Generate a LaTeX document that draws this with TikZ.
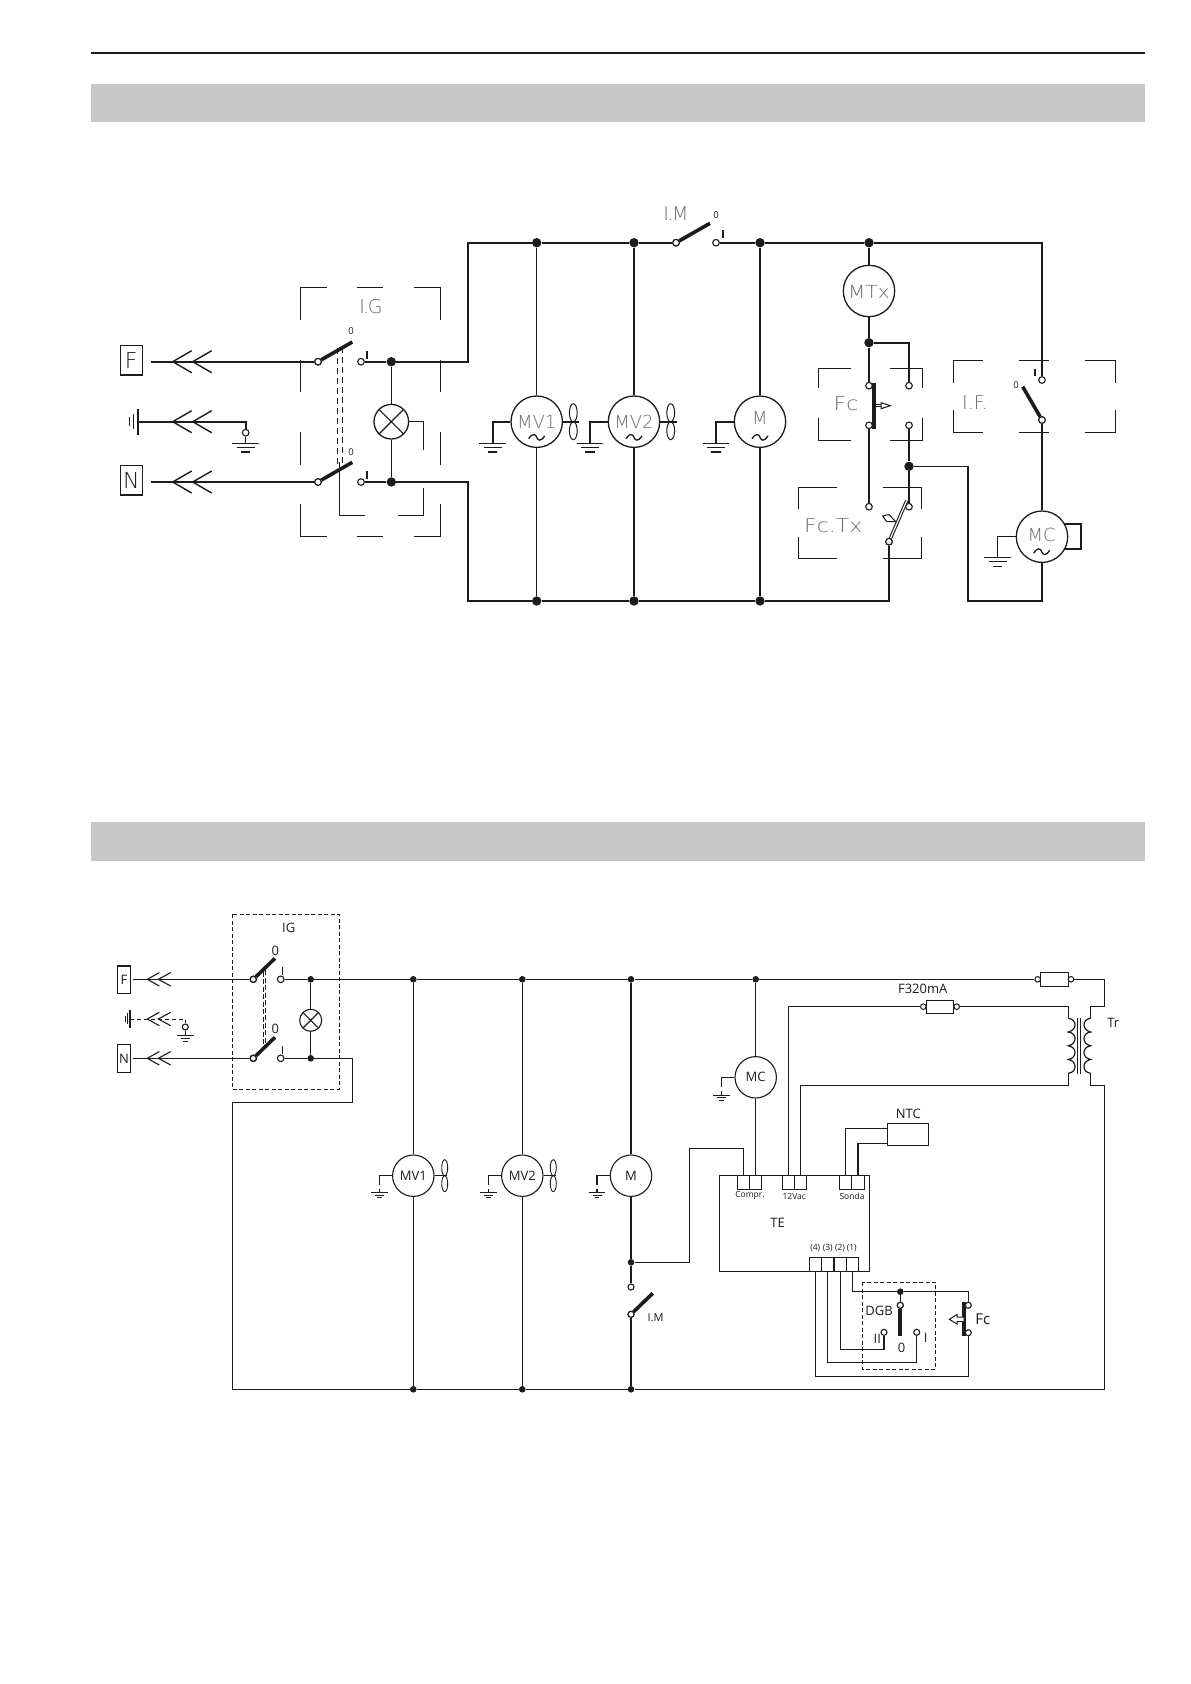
\documentclass[tikz,border=0pt]{standalone}
\usepackage{fontspec}
\newfontfamily\cadtop{DejaVu Sans ExtraLight}
\newfontfamily\cadlow{Open Sans}
\definecolor{band}{gray}{0.78}
\definecolor{ink}{gray}{0.11}
\tikzset{
  x=1pt,y=-1pt,
  hw/.style={draw=ink,line width=2.2pt},
  lw/.style={draw=ink,line width=1.2pt},
  brk/.style={draw=ink,line width=1pt},
  lever/.style={draw=ink,line width=3.6pt},
  jdot/.style={circle,fill=ink,draw=none,inner sep=0pt,minimum size=9.4pt},
  jdotl/.style={circle,fill=ink,draw=none,inner sep=0pt,minimum size=6.6pt},
  termn/.style={circle,fill=white,draw=ink,line width=1.1pt,inner sep=0pt,minimum size=6.6pt},
  termf/.style={circle,draw=ink,line width=1pt,inner sep=0pt,minimum size=5.6pt},
  motorT/.style={circle,fill=white,draw=ink,line width=1.3pt,inner sep=0pt,minimum size=51.4pt},
  motorL/.style={circle,fill=white,draw=ink,line width=1.1pt,inner sep=0pt,minimum size=41.4pt},
  lampT/.style={circle,draw=ink,line width=1.3pt,inner sep=0pt,minimum size=34.6pt},
  lampL/.style={circle,draw=ink,line width=1.1pt,inner sep=0pt,minimum size=22pt},
  boxn/.style={rectangle,draw=ink,line width=1.1pt,inner sep=0pt},
  tT/.style={inner sep=0pt,text=black!58,font=\cadtop\fontsize{19}{19}\selectfont},
  tW/.style={tT,transform shape,xscale=1.16},
  tM/.style={inner sep=0pt,text=black!58,font=\cadtop\fontsize{18}{18}\selectfont},
  tB/.style={inner sep=0pt,text=black!90,font=\cadtop\fontsize{22}{22}\selectfont},
  tS/.style={inner sep=0pt,text=ink,font=\cadlow\fontsize{9.5}{9.5}\selectfont},
  tL/.style={inner sep=0pt,text=ink,font=\cadlow\fontsize{13}{13}\selectfont},
  tXS/.style={inner sep=0pt,text=ink,font=\cadlow\fontsize{8.5}{8.5}\selectfont},
  chevT/.pic={\draw[line width=1.4pt,draw=ink] (19,-11)--(0,0)--(19,11);\draw[line width=1.4pt,draw=ink] (39,-11)--(20,0)--(39,11);},
  chevL/.pic={\draw[line width=1.1pt,draw=ink] (12,-6.7)--(0,0)--(12,6.7);\draw[line width=1.1pt,draw=ink] (23.4,-6.7)--(11,0)--(23.4,6.7);},
  gndT/.pic={\draw[line width=1pt,draw=ink] (-13.3,0)--(13.3,0) (-9,4.2)--(9,4.2);\draw[line width=2pt,draw=ink] (-4.7,8.7)--(4.7,8.7);},
  gndM/.pic={\draw[line width=1pt,draw=ink] (-13.3,0)--(13.3,0) (-9,4.3)--(9,4.3) (-4.7,8.7)--(4.7,8.7);},
  gndL/.pic={\draw[line width=1pt,draw=ink] (-8.4,0)--(8.4,0) (-4.5,2.8)--(4.5,2.8) (-2.4,5.4)--(2.4,5.4);},
  tildeT/.pic={\draw[line width=1.3pt,draw=ink] (-8,1.5) .. controls (-4,-5) and (-1,-3) .. (0,0) .. controls (1,3) and (4,5) .. (8,-1.5);},
  fanT/.pic={\draw[line width=1pt,draw=ink] (0,-9) ellipse (3.9 and 9) (0,9) ellipse (3.9 and 9);},
  fanL/.pic={\draw[line width=.9pt,draw=ink] (0,-8) ellipse (3 and 8) (0,8) ellipse (3 and 8);},
  xlamp/.pic={\draw[line width=1.1pt,draw=ink] (-#1,-#1)--(#1,#1) (-#1,#1)--(#1,-#1);},
}
\begin{document}
\begin{tikzpicture}
\useasboundingbox (0,0) rectangle (1191,1684);
\fill[white] (0,0) rectangle (1191,1684);
% page furniture
\coordinate (ruleL) at (91,53);\coordinate (ruleR) at (1145,53);
\draw[draw=ink,line width=2.3pt] (ruleL)--(ruleR);
\fill[band] (91,84) rectangle (1145,121.7);
\fill[band] (91,822.3) rectangle (1145,861);

%%%%%%%%%%%%%%%%%%%%%%% UPPER DIAGRAM
% breaks (bracketed boxes)
\draw[brk] (300.3,320.3)|-(326.7,287.3) (357.3,287.3)--(383.3,287.3) (414.3,287.3)-|(440.3,320.3)
 (300.3,360)--(300.3,392.3) (440.3,360)--(440.3,392.3)
 (300.3,432.3)--(300.3,465) (440.3,432.3)--(440.3,465)
 (300.3,504.3)|-(326.7,536.3) (357.3,536.3)--(383.3,536.3) (414.3,536.3)-|(440.3,504.3);
\draw[brk] (818.3,388.3)|-(850.7,368.3) (890,368.3)-|(922.7,388.3)
 (818.3,418.3)|-(850.7,440.3) (890,440.3)-|(922.7,418.3);
\draw[brk] (798.3,509.3)|-(836.7,487.3) (883.3,487.3)-|(921.7,509.3)
 (798.3,536.7)|-(836.7,558.3) (883.3,558.3)-|(921.7,536.7);
\draw[brk] (953.3,383.3)|-(982.7,360.3) (1019.3,360.3)--(1049.3,360.3) (1085.3,360.3)-|(1115.3,383.3)
 (953.3,410)|-(982.7,432.3) (1019.3,432.3)--(1049.3,432.3) (1085.3,432.3)-|(1115.3,410);

% nodes
\node[boxn,minimum width=22pt,minimum height=29.3pt,line width=1.3pt] (Fbox) at (131.3,360.3) {};
\node[tB] (Ft) at (131.3,360.5) {F};
\node[boxn,minimum width=22pt,minimum height=29.3pt,line width=1.3pt] (Nbox) at (131.3,480.3) {};
\node[tB] (Nt) at (131.3,480.5) {N};
\node[tT] (IGt) at (371,307) {I\kern-1.5pt.\kern-1.5pt G};
\node[tT] (IMt) at (676,213.5) {I\kern-1.5pt.\kern-1.5pt M};
\node[tW] (Fct) at (846,403.3) {Fc};
\node[tW] (FcTxt) at (833.3,525.7) {Fc.Tx};
\node[tT] (IFt) at (975,403) {I.F.};

\node[termn] (ta) at (318,361.7) {};
\node[termn] (tb) at (361,361.7) {};
\node[jdot] (d1) at (391.3,361.7) {};
\node[termn] (tc) at (318,482) {};
\node[termn] (td) at (361,482) {};
\node[jdot] (d2) at (391.3,482) {};
\node[lampT] (lamp) at (391.3,421.7) {};
\pic at (391.3,421.7) {xlamp=12};
\node[termn] (geT) at (245.7,432.7) {};
\node[jdot] (bd1) at (536.7,242.7) {};
\node[jdot] (bd2) at (634,242.7) {};
\node[termn] (imA) at (676,242.7) {};
\node[termn] (imB) at (716,242.7) {};
\node[jdot] (bd3) at (760,242.7) {};
\node[jdot] (bd4) at (869,242.7) {};
\node[jdot] (bb1) at (536.7,601) {};
\node[jdot] (bb2) at (634,601) {};
\node[jdot] (bb3) at (760,601) {};
\node[motorT] (MV1) at (536.7,421.7) {};
\node[motorT] (MV2) at (634,421.7) {};
\node[motorT] (M) at (760,421.7) {};
\node[motorT] (MTx) at (869,291) {};
\node[motorT] (MC) at (1042,536.7) {};
\node[tM] (MV1t) at (536.7,422) {MV1};
\node[tM] (MV2t) at (634,422) {MV2};
\node[tM] (Mt) at (760,418) {M};
\node[tM,transform shape,xscale=1.12] (MTxt) at (869,291.5) {MTx};
\node[tM] (MCt) at (1041.7,535) {MC};
\pic at (536.7,437.3) {tildeT};
\pic at (634,437.3) {tildeT};
\pic at (760,437.3) {tildeT};
\pic at (1041.7,551.7) {tildeT};
\node[jdot] (d3) at (869,342.7) {};
\node[termn] (fcA) at (869,385.7) {};
\node[termn] (fcB) at (869,425.3) {};
\node[termn] (fcC) at (909,385.7) {};
\node[termn] (fcD) at (909,425.3) {};
\node[jdot] (d4) at (909,466.3) {};
\node[termn] (fxA) at (869,506.7) {};
\node[termn] (fxB) at (909,506.7) {};
\node[termn] (fxC) at (889,541.7) {};
\node[termn] (ifA) at (1042,380) {};
\node[termn] (ifB) at (1042,420) {};
\node[tS] (z1) at (351,331) {0};
\node[tS] (z2) at (351,452) {0};
\node[tS] (z3) at (716,215.3) {0};
\node[tS] (z4) at (1016,385) {0};

% free ends and corners
\coordinate (Fs) at (151.3,361.7);
\coordinate (Ns) at (151.3,482);
\coordinate (Es) at (138,421.7);
\coordinate (c1) at (468,361.7);
\coordinate (c2) at (468,242.7);
\coordinate (c3) at (468,482);
\coordinate (c4) at (468,601);
\coordinate (c5) at (889,601);
\coordinate (c6) at (1042,242.7);
\coordinate (c7) at (968,466.3);
\coordinate (c8) at (968,601);
\coordinate (c9) at (1042,601);

% wires
\draw[hw] (Fs)--(ta);
\draw[hw] (Ns)--(tc);
\draw[hw] (Es)-|(geT);
\draw[lw] (geT)--(245.7,443.3);
\draw[hw] (tb)--(d1)--(c1)--(c2)--(bd1)--(bd2)--(imA);
\draw[hw] (td)--(d2)--(c3)--(c4)--(bb1)--(bb2)--(bb3)--(c5)--(fxC);
\draw[hw] (imB)--(bd3)--(bd4)--(c6)--(ifA);
\draw[lw] (d1)--(lamp);
\draw[lw] (lamp)--(d2);
\draw[lw] (bd1)--(MV1);
\draw[lw] (MV1)--(bb1);
\draw[hw] (bd2)--(MV2);
\draw[hw] (MV2)--(bb2);
\draw[hw] (bd3)--(M);
\draw[hw] (M)--(bb3);
\draw[hw] (bd4)--(MTx);
\draw[hw] (MTx)--(d3)--(fcA);
\draw[hw] (d3)-|(fcC);
\draw[hw] (fcB)--(fxA);
\draw[hw] (fcD)--(d4)--(fxB);
\draw[lw] (d4)--(c7);
\draw[hw] (c7)--(c8)--(c9)--(MC);
\draw[hw] (MC)--(ifB);
% lamp tail and mechanical link
\coordinate (lr) at (423.3,421.7);
\draw[lw] (lamp)--(lr)--(423.3,450);
\draw[brk] (423.3,487.7)--(423.3,515)--(397.7,515);
\draw[brk] (365,515)--(339.3,515)--(339.3,462);
\draw[draw=ink,line width=.9pt,dash pattern=on 6pt off 4pt] (337.3,348)--(337.3,466);
\draw[draw=ink,line width=.9pt,dash pattern=on 6pt off 4pt] (342,347)--(342,463);
% levers
\draw[lever] (ta)--(352.3,342);
\draw[lever] (tc)--(352.3,462.3);
\draw[lever] (imA)--(710,223.3);
\draw[lever] (ifB)--(1022.7,386.7);
\draw[draw=ink,line width=2pt] (366.7,351)--(366.7,358.7) (366.7,471.3)--(366.7,479);
\draw[draw=ink,line width=2pt] (723,230)--(723,238.3);
\draw[draw=ink,line width=2pt] (1035,369)--(1035,376);
% Fc plunger
\draw[draw=ink,line width=4pt] (874,382.7)--(874,429.3);
\draw[draw=ink,line width=1pt] (875,404.6)--(881,404.6) (875,406.8)--(881,406.8);
\draw[draw=ink,line width=1pt,fill=white] (881,402.7)--(890.3,405.7)--(881,408.7)--cycle;
% Fc.Tx lever
\draw[draw=ink,line width=3.4pt] (fxC)--(906.7,500.7);
\draw[white,line width=1.2pt] (fxC)--(906.7,500.7);
\draw[draw=ink,line width=1pt,fill=white] (882.7,516)--(889,514.5)--(895.7,521.7)--(886.5,521.5)--cycle;
% MC loop
\draw[hw] (1065,524)--(1081.3,524)--(1081.3,549)--(1064,549);
% earths
\draw[draw=ink,line width=2.4pt] (138,409)--(138,435);
\draw[draw=ink,line width=1pt] (133.7,414)--(133.7,429.3) (129.3,417.3)--(129.3,426);
\pic at (245.7,443.3) {gndT};
\draw[hw] (MV1)-|(492.7,443.3);
\pic at (492.7,443.3) {gndT};
\draw[hw] (MV2)-|(590,443.3);
\pic at (590,443.3) {gndT};
\draw[hw] (M)-|(716,443.3);
\pic at (716,443.3) {gndT};
\draw[lw] (MC)-|(997.7,557.3);
\pic at (997.7,557.3) {gndM};
% fans
\draw[hw] (MV1)--(579.3,421.7);
\pic at (573.3,421.7) {fanT};
\draw[hw] (MV2)--(676.7,421.7);
\pic at (670.7,421.7) {fanT};
% plugs
\pic at (172.7,361.7) {chevT};
\pic at (172.7,421.7) {chevT};
\pic at (172.7,482) {chevT};
% redraw terminals on top of levers
\foreach \n/\p in {ta1/{318,361.7},tc1/{318,482},im1/{676,242.7},if1/{1042,420},fx1/{889,541.7}}
  \node[termn] (\n) at (\p) {};

%%%%%%%%%%%%%%%%%%%%%%% LOWER DIAGRAM
\draw[draw=ink,line width=1pt,dash pattern=on 4pt off 2.5pt] (232.3,914.3) rectangle (339.3,1089.3);
\draw[draw=ink,line width=1pt,dash pattern=on 4pt off 2.5pt] (862.3,1282.3) rectangle (935.7,1369.3);
\node[boxn,minimum width=13.4pt,minimum height=27.6pt] (LF) at (124,979.5) {};
\draw[draw=ink,line width=2pt] (117.3,965.9)--(130.7,965.9);
\node[tL] (LFt) at (124,979.5) {F};
\node[boxn,minimum width=13.4pt,minimum height=27.6pt] (LN) at (124,1058.5) {};
\node[tL] (LNt) at (124,1058.5) {N};
\node[tL] (IGl) at (288.7,928.3) {IG};
\node[termn] (la) at (253.3,979.3) {};
\node[termn] (lb) at (280.7,979.3) {};
\node[jdotl] (ld1) at (310.7,979.3) {};
\node[termn] (lc) at (253.3,1058.3) {};
\node[termn] (ld) at (280.7,1058.3) {};
\node[jdotl] (ld2) at (310.7,1058.3) {};
\node[lampL] (llamp) at (310.7,1020.3) {};
\pic at (310.7,1020.3) {xlamp=7.7};
\node[tL] (l01) at (275.3,950.7) {0};
\node[tL] (l02) at (275.3,1029) {0};
\node[termn,minimum size=6pt] (lge) at (185.3,1027) {};
\node[jdotl] (B1) at (413.3,979.3) {};
\node[jdotl] (B2) at (522.3,979.3) {};
\node[jdotl] (B3) at (631,979.3) {};
\node[jdotl] (B4) at (755.7,979.3) {};
\node[jdotl] (R1) at (413.3,1389.3) {};
\node[jdotl] (R2) at (522.3,1389.3) {};
\node[jdotl] (R3) at (631,1389.3) {};
\node[motorL] (lMV1) at (413.3,1175.7) {};
\node[motorL] (lMV2) at (522.3,1175.7) {};
\node[motorL] (lM) at (631,1175.7) {};
\node[motorL] (lMC) at (755.7,1077.3) {};
\node[tL] (lMV1t) at (413.3,1175.7) {MV1};
\node[tL] (lMV2t) at (522.3,1175.7) {MV2};
\node[tL] (lMt) at (631,1175.7) {M};
\node[tL] (lMCt) at (755.7,1077.3) {MC};
\node[jdotl] (J) at (631,1262.3) {};
\node[termn,minimum size=6pt] (lim1) at (631,1287) {};
\node[termn,minimum size=6pt] (lim2) at (631,1314.3) {};
\node[tXS,font=\cadlow\fontsize{11}{11}\selectfont] (lIMt) at (655.7,1317.3) {I.M};
\node[boxn,minimum width=150pt,minimum height=95.6pt] (TE) at (794.3,1223.5) {};
\node[tL] (TEt) at (777.7,1223.3) {TE};
\foreach \n/\xx in {tc1a/743.3,tc1b/755.7,tv1a/788.7,tv1b/800.8,ts1a/845.7,ts1b/858}
  \node[boxn,minimum width=12.2pt,minimum height=13.6pt] (\n) at (\xx,1182.5) {};
\foreach \n/\xx in {tp4/815.3,tp3/827.8,tp2/840.3,tp1/852.5}
  \node[boxn,minimum width=12.4pt,minimum height=14pt] (\n) at (\xx,1264.3) {};
\node[tXS] (cprt) at (750,1195.3) {Compr.};
\node[tXS] (vact) at (794.3,1196.3) {12Vac};
\node[tXS] (sont) at (852,1196.3) {Sonda};
\node[tXS] (p4t) at (815.3,1248.3) {(4)};
\node[tXS] (p3t) at (827.7,1248.3) {(3)};
\node[tXS] (p2t) at (840,1248.3) {(2)};
\node[tXS] (p1t) at (851.7,1248.3) {(1)};
\node[boxn,minimum width=41.4pt,minimum height=22pt] (NTC) at (908,1134.3) {};
\node[tL] (NTCt) at (908.3,1114.3) {NTC};
\node[boxn,minimum width=28.4pt,minimum height=13.6pt] (fu1) at (1054.5,979.5) {};
\node[termf] (fu1a) at (1037.7,979.3) {};
\node[termf] (fu1b) at (1071,979.3) {};
\node[boxn,minimum width=27.4pt,minimum height=13.3pt] (fu2) at (940,1006.7) {};
\node[termf] (fu2a) at (923.3,1006.7) {};
\node[termf] (fu2b) at (956.7,1006.7) {};
\node[tL] (fu2t) at (922.7,989.3) {F320mA};
\node[tL] (Trt) at (1113.3,1022.7) {Tr};
\node[jdotl] (DJ) at (900.3,1291.7) {};
\node[termn,minimum size=6pt] (dgA) at (900.3,1305.3) {};
\node[termn,minimum size=6pt] (dgI) at (916.7,1332.3) {};
\node[termn,minimum size=6pt] (dgII) at (884,1332.3) {};
\node[tL] (dg0) at (901.7,1348.3) {0};
\node[tL] (dgIt) at (925.7,1338.3) {I};
\node[tL] (dgIIt) at (877.3,1339.3) {II};
\node[tL] (DGBt) at (879,1311) {DGB};
\node[termn,minimum size=6pt] (fcl1) at (968.3,1305.3) {};
\node[termn,minimum size=6pt] (fcl2) at (968.3,1332.7) {};
\node[tL,font=\cadlow\fontsize{15}{15}\selectfont] (fclt) at (982.7,1319) {Fc};

\coordinate (Ls) at (133.3,979.3);
\coordinate (Nls) at (133.3,1058.3);
\coordinate (e1) at (130,1019);
\coordinate (c10) at (352.3,1058.3);
\coordinate (c11) at (352.3,1102.3);
\coordinate (c12) at (232.3,1102.3);
\coordinate (c13) at (232.3,1389.3);
\coordinate (c14) at (1104.3,1389.3);
\coordinate (c15) at (1104.3,979.3);
\coordinate (c16) at (1104.3,1006.7);
\coordinate (c17) at (1090.7,1006.7);
\coordinate (c18) at (1090.7,1018.3);
\coordinate (c19) at (1090.7,1073.3);
\coordinate (c20) at (1090.7,1085.3);
\coordinate (c21) at (1104.3,1085.3);
\coordinate (c22) at (1068.3,1006.7);
\coordinate (c23) at (1068.3,1018.3);
\coordinate (c24) at (1068.3,1073.3);
\coordinate (c25) at (1068.3,1085.3);
\coordinate (c26) at (788.7,1006.7);
\coordinate (c27) at (800.8,1085.3);
\coordinate (c28) at (689.3,1262.3);
\coordinate (c29) at (689.3,1148.3);
\coordinate (c30) at (743.3,1148.3);
\coordinate (c31) at (845.7,1128.3);
\coordinate (c32) at (858,1143.3);
\coordinate (c33) at (852.5,1291.7);
\coordinate (c34) at (968.3,1291.7);
\coordinate (c35) at (968.3,1376.3);
\coordinate (c36) at (815.3,1376.3);
\coordinate (c37) at (916.7,1362.7);
\coordinate (c38) at (827.8,1362.7);
\coordinate (c39) at (884,1349.3);
\coordinate (c40) at (840.3,1349.3);

\draw[lw] (Ls)--(la);
\draw[lw] (Nls)--(lc);
\draw[lw] (lb)--(ld1)--(B1)--(B2)--(B3)--(B4)--(fu1a);
\draw[lw] (fu1b)--(c15)--(c16)--(c17)--(c18);
\draw[lw] (c19)--(c20)--(c21)--(c14)--(R3)--(R2)--(R1)--(c13)--(c12)--(c11)--(c10)--(ld2)--(ld);
\draw[lw] (ld1)--(llamp);
\draw[lw] (llamp)--(ld2);
\foreach \a/\b/\c in {B1/lMV1/R1,B2/lMV2/R2,B3/lM/J,B4/lMC/tc1b}
  {\draw[lw] (\a)--(\b);\draw[lw] (\b)--(\c);}
\draw[lw] (J)--(lim1);
\draw[lw] (lim2)--(R3);
\draw[lw] (J)--(c28)--(c29)--(c30)--(tc1a);
\draw[lw] (fu2b)--(c22)--(c23);
\draw[lw] (fu2a)--(c26)--(tv1a);
\draw[lw] (c24)--(c25)--(c27)--(tv1b);
\draw[lw] (ts1a)--(c31)--(c31-|NTC.west);
\draw[lw] (ts1b)--(c32)--(c32-|NTC.west);
\draw[lw] (tp1)--(c33)--(DJ)--(c34)--(fcl1);
\draw[lw] (DJ)--(dgA);
\draw[lw] (fcl2)--(c35)--(c36)--(tp4);
\draw[lw] (dgI)--(c37)--(c38)--(tp3);
\draw[lw] (dgII)--(c39)--(c40)--(tp2);
% transformer
\draw[lw] (c23)
  .. controls (1077.3,1019.3) and (1077.3,1030) .. (1068.3,1032)
  .. controls (1077.3,1033) and (1077.3,1044) .. (1068.3,1045.8)
  .. controls (1077.3,1047) and (1077.3,1058) .. (1068.3,1059.5)
  .. controls (1077.3,1061) and (1077.3,1072.3) .. (c24);
\draw[lw] (c18)
  .. controls (1081.7,1019.3) and (1081.7,1030) .. (1090.7,1032)
  .. controls (1081.7,1033) and (1081.7,1044) .. (1090.7,1045.8)
  .. controls (1081.7,1047) and (1081.7,1058) .. (1090.7,1059.5)
  .. controls (1081.7,1061) and (1081.7,1072.3) .. (c19);
\draw[draw=ink,line width=1pt] (1077.3,1018.3)--(1077.3,1074) (1080.5,1018.3)--(1080.5,1074);
% levers
\draw[lever] (la)--(275,958.3);
\draw[lever] (lc)--(275,1037.3);
\draw[lever] (lim2)--(652.7,1293.3);
\draw[draw=ink,line width=1.1pt] (282.7,966.7)--(282.7,975) (282.7,1045.5)--(282.7,1054);
\draw[draw=ink,line width=.9pt,dash pattern=on 5pt off 2.5pt] (263,971.7)--(263,1046.7) (265.7,970)--(265.7,1044);
\foreach \n/\p in {la1/{253.3,979.3},lc1/{253.3,1058.3},lim3/{631,1314.3}}
  \node[termn,minimum size=6pt] (\n) at (\p) {};
\draw[draw=ink,line width=4pt] (dgA)--(900.3,1335.7);
\node[termn,minimum size=6pt] (dgA2) at (900.3,1305.3) {};
\draw[draw=ink,line width=4pt] (964.3,1302.3)--(964.3,1335.7);
\draw[draw=ink,line width=1pt,fill=white] (949.3,1319.3)--(957,1314.5)--(957,1317)--(964,1317)--(964,1321.6)--(957,1321.6)--(957,1324)--cycle;
% plugs
\pic at (147.3,979.3) {chevL};
\pic at (147.3,1058.3) {chevL};
\pic at (147.3,1019) {chevL};
\draw[draw=ink,line width=.9pt,dash pattern=on 4pt off 3pt] (e1)-|(lge);
\draw[lw] (lge)--(185.3,1035.7);
\pic at (185.3,1035.7) {gndL};
\draw[draw=ink,line width=1.1pt] (130,1010)--(130,1027.7);
\draw[draw=ink,line width=.9pt] (127.3,1013.3)--(127.3,1024.3) (125,1016)--(125,1022);
% motor earths
\foreach \mm/\gx in {lMV1/379.3,lMV2/488.3,lM/597}
 {\draw[lw] (\mm.west)--++(-5,0);
  \draw[lw] (\gx+12,1175.7)--(\gx,1175.7)--(\gx,1185);
  \draw[lw] (\gx,1188.5)--(\gx,1192.3);
  \pic at (\gx,1192.3) {gndL};}
\draw[lw] (lMC.west)--++(-5,0);
\draw[lw] (733.7,1077.3)--(721.7,1077.3)--(721.7,1087);
\draw[lw] (721.7,1090.7)--(721.7,1095);
\pic at (721.7,1095) {gndL};
% fans
\draw[lw] (lMV1)--(447.3,1175.7);
\pic at (444.7,1175.7) {fanL};
\draw[lw] (lMV2)--(556,1175.7);
\pic at (553.3,1175.7) {fanL};
\end{tikzpicture}
\end{document}
